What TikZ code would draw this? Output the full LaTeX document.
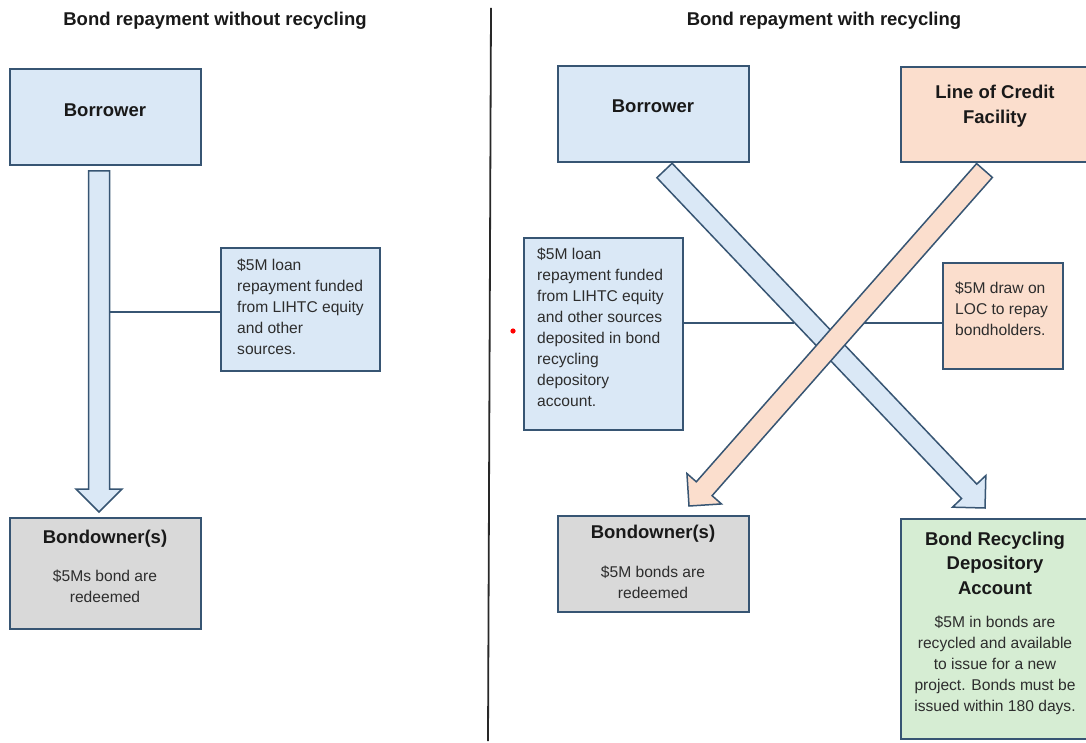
\documentclass[tikz,border=0pt]{standalone}
\usepackage{fontspec}
\setmainfont{Liberation Sans}
\usetikzlibrary{calc}
\definecolor{bord}{RGB}{55,85,115}
\definecolor{lblue}{RGB}{218,232,246}
\definecolor{lorange}{RGB}{251,222,205}
\definecolor{lgray}{RGB}{217,217,217}
\definecolor{lgreen}{RGB}{214,237,211}
\definecolor{txt}{RGB}{25,25,25}
\definecolor{bodytxt}{RGB}{45,45,45}
\definecolor{divc}{RGB}{40,40,40}
\tikzset{
 box/.style={draw=bord, line width=1.7pt, rectangle, inner sep=0pt, anchor=north west},
 title/.style={font=\fontsize{18.5}{24}\selectfont\bfseries, text=txt, inner sep=0pt},
 hdr/.style={font=\fontsize{18.5}{24.5}\selectfont\bfseries, text=txt, inner sep=0pt, align=center},
 body/.style={font=\fontsize{15.6}{21}\selectfont, text=bodytxt, inner sep=0pt, align=center},
 lbody/.style={font=\fontsize{15.6}{21}\selectfont, text=bodytxt, inner sep=0pt, align=left, anchor=west},
 fat/.style={draw=bord, line width=1.5pt, line join=miter},
 link/.style={draw=bord, line width=1.4pt},
}
\newcommand\fatarrow[4]{%
 \coordinate (#4h) at ($(#2)!23pt!(#1)$);
 \filldraw[fat, fill=#3] ($(#1)!10.5pt!90:(#2)$) -- ($(#4h)!10.5pt!90:(#2)$) -- ($(#4h)!23pt!90:(#2)$) -- (#2) -- ($(#4h)!23pt!-90:(#2)$) -- ($(#4h)!10.5pt!-90:(#2)$) -- ($(#1)!10.5pt!-90:(#2)$) -- cycle;}
\begin{document}
\begin{tikzpicture}[x=1pt,y=-1pt]
\useasboundingbox (0,0) rectangle (1086,743);
\clip (0,0) rectangle (1086,743);
\fill[white] (0,0) rectangle (1086,743);

% titles
\node[title] (t1) at (215,21) {Bond repayment without recycling};
\node[title] (t2) at (824,21) {Bond repayment with recycling};

% divider
\coordinate (d0) at (491,8);
\coordinate (d1) at (488,741);
\draw[divc, line width=1.8pt] (d0) -- (d1);

% left side boxes
\node[box, fill=lblue, minimum width=191pt, minimum height=96pt] (lb) at (9,68) {};
\node[box, fill=lblue, minimum width=159pt, minimum height=123pt] (lc) at (220,247) {};
\node[box, fill=lgray, minimum width=191pt, minimum height=111pt] (lo) at (9,517) {};

% right side boxes
\node[box, fill=lblue, minimum width=191pt, minimum height=96pt] (rb) at (557,65) {};
\node[box, fill=lorange, minimum width=200pt, minimum height=95pt] (loc) at (900,66) {};
\node[box, fill=lblue, minimum width=159pt, minimum height=192pt] (rc1) at (523,237) {};
\node[box, fill=lorange, minimum width=120pt, minimum height=106pt] (rc2) at (942,262) {};
\node[box, fill=lgray, minimum width=191pt, minimum height=96pt] (ro) at (557,515) {};
\node[box, fill=lgreen, minimum width=200pt, minimum height=220pt] (grn) at (900,518) {};

% arrows
\coordinate (la0) at (99,171); \coordinate (la1) at (99,512);
\coordinate (ba0) at (664.5,170.5); \coordinate (ba1) at (985,508);
\coordinate (oa0) at (984.5,170.5); \coordinate (oa1) at (689,506);
\fatarrow{la0}{la1}{lblue}{la}
\fatarrow{ba0}{ba1}{lblue}{ba}
\fatarrow{oa0}{oa1}{lorange}{oa}

% connectors
\coordinate (lj) at (110,312);
\draw[link] (lj) -- (lj -| lc.west);
\coordinate (bj) at (794,323);
\draw[link] (rc1.east |- bj) -- (bj);
\coordinate (oj) at (864,323);
\draw[link] (oj) -- (oj -| rc2.west);

% texts left
\node[hdr] (lbt) at (105,110) {Borrower};
\node[lbody] (lct) at (237,307) {\$5M loan\\repayment funded\\from LIHTC equity\\and other\\sources.};
\node[hdr] (lot) at (105,539) {Bondowner(s)};
\node[body] (lob) at (105,586) {\$5Ms bond are\\redeemed};

% texts right
\node[hdr] (rbt) at (653,106) {Borrower};
\node[hdr] (loct) at (995,106) {Line of Credit\\Facility};
\node[lbody] (rc1t) at (537,327) {\$5M loan\\repayment funded\\from LIHTC equity\\and other sources\\deposited in bond\\recycling\\depository\\account.};
\node[lbody] (rc2t) at (955,309) {\$5M draw on\\LOC to repay\\bondholders.};
\node[hdr] (rot) at (653,534) {Bondowner(s)};
\node[body] (rob) at (653,582) {\$5M bonds are\\redeemed};
\node[hdr] (grnt) at (995,563) {Bond Recycling\\Depository\\Account};
\node[body] (grnb) at (995,665) {\$5M in bonds are\\recycled and available\\to issue for a new\\project. Bonds must be\\issued within 180 days.};

% stray red dot
\fill[red] (513,331) circle (2.6);
\end{tikzpicture}
\end{document}
